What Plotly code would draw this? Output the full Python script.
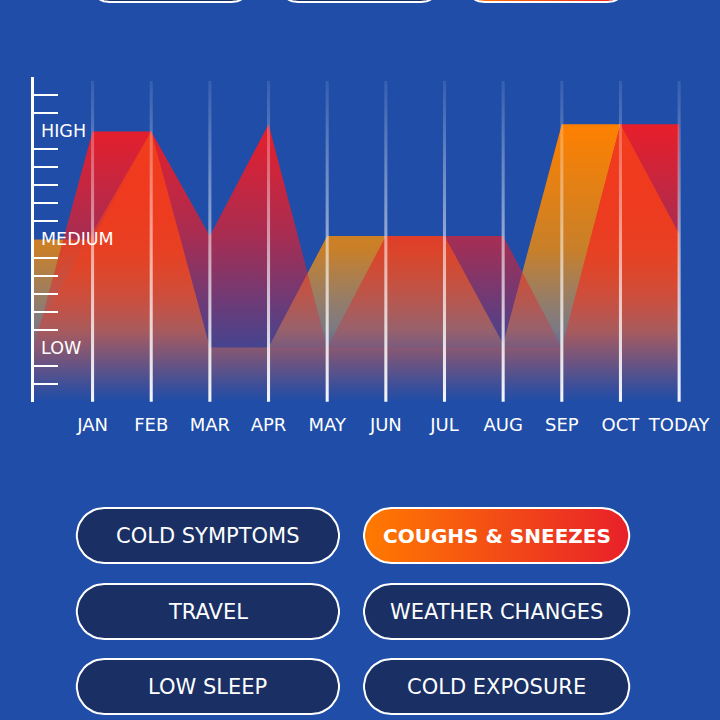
import numpy as np
import plotly.graph_objects as go

# ---- data -------------------------------------------------------------
months = ["JAN", "FEB", "MAR", "APR", "MAY", "JUN", "JUL", "AUG", "SEP",
          "OCT", "TODAY"]
# first value of every series sits on the y axis (x = -1), then one per month
x_pos = list(range(-1, len(months)))

red_series = [3.0, 15.0, 15.0, 9.2, 15.4, 3.0, 9.2, 9.2, 9.2, 3.0, 15.4, 15.4]
orange_series = [9.0, 9.0, 15.0, 3.0, 3.0, 9.2, 9.2, 9.2, 3.2, 15.4, 15.4, 9.3]
coral_series = [3.8, 9.4, 15.0, 3.0, 3.0, 3.0, 3.0, 3.0, 3.0, 3.0, 15.4, 9.3]

level_names = ["LOW", "MEDIUM", "HIGH"]
level_values = [3, 9, 15]
y_max = 18

pill_rows = [["COLD SYMPTOMS", "COUGHS & SNEEZES"],
             ["TRAVEL", "WEATHER CHANGES"],
             ["LOW SLEEP", "COLD EXPOSURE"]]
active_pill = "COUGHS & SNEEZES"

# ---- style --------------------------------------------------------------
BG = "#1f4da7"
NAVY = "#1a3064"
FONT = "DejaVu Sans"
W = H = 720
TOP = 15.4

fig = go.Figure()


def area(values, stops):
    # stops given as (level value, colour); turned into a 0..1 colorscale
    fig.add_trace(go.Scatter(
        x=x_pos, y=values, mode="lines", fill="tozeroy",
        line=dict(width=0),
        fillgradient=dict(type="vertical", start=0, stop=TOP,
                          colorscale=[[v / TOP, c] for v, c in stops]),
        hoverinfo="skip", showlegend=False))


area(orange_series, [(0, "rgba(130,130,160,0)"),
                     (2, "rgba(200,150,120,0.22)"),
                     (4, "rgba(215,165,95,0.5)"),
                     (8.4, "rgba(242,140,10,0.8)"),
                     (TOP, "rgba(255,128,0,1)")])
area(red_series, [(0, "rgba(232,30,42,0)"),
                  (3.4, "rgba(232,30,42,0.22)"),
                  (9.2, "rgba(232,30,42,0.68)"),
                  (TOP, "rgba(232,30,42,1)")])
area(coral_series, [(0, "rgba(242,62,28,0)"),
                    (3, "rgba(242,62,28,0.12)"),
                    (TOP, "rgba(242,62,28,1)")])

# fading white month lines
half = 0.026
for i in range(len(months)):
    fig.add_trace(go.Scatter(
        x=[i - half, i + half, i + half, i - half, i - half],
        y=[0, 0, y_max - 0.2, y_max - 0.2, 0],
        mode="lines", fill="toself", line=dict(width=0),
        fillgradient=dict(type="vertical",
                          colorscale=[[0, "rgba(255,255,255,0.95)"],
                                      [1, "rgba(255,255,255,0.1)"]]),
        hoverinfo="skip", showlegend=False))

for name, val in zip(level_names, level_values):
    fig.add_annotation(x=-1, y=val, xref="x", yref="y", text=name,
                       showarrow=False, xanchor="left", xshift=5,
                       font=dict(family=FONT, size=17.5, color="white"))


# ---- pill buttons (pixel axes) -----------------------------------------
def pill(x0, x1, yc, h, n=24):
    r = h / 2
    a = np.linspace(-np.pi / 2, np.pi / 2, n)
    xs = list(x1 - r + r * np.cos(a)) + list(x0 + r - r * np.cos(a))
    ys = list(yc + r * np.sin(a)) + list(yc - r * np.sin(a))
    return xs + [xs[0]], ys + [ys[0]]


def add_pill(x0, x1, yc, h, label, active):
    xs, ys = pill(x0, x1, yc, h)
    kw = dict(fillcolor=NAVY)
    if active:
        kw = dict(fillgradient=dict(type="horizontal",
                                    colorscale=[[0, "#ff7a00"],
                                                [1, "#e8202a"]]))
    fig.add_trace(go.Scatter(x=xs, y=ys, mode="lines", fill="toself",
                             line=dict(color="white", width=2),
                             xaxis="x2", yaxis="y3", hoverinfo="skip",
                             showlegend=False, **kw))
    if label:
        fig.add_annotation(x=(x0 + x1) / 2, y=yc, xref="x2", yref="y3",
                           text=label, showarrow=False,
                           font=dict(family=FONT, size=20 if active else 21,
                                     color="white",
                                     weight=700 if active else 400))


# row cut by the top edge
for (x0, x1), act in zip([(88, 254), (277, 444), (464, 631)],
                         [False, False, True]):
    add_pill(x0, x1, -20, 44, "", act)

cols = [(77, 340), (365, 631)]
row_y = [535.5, 611.5, 686.5]
for row, yc in zip(pill_rows, row_y):
    for label, (x0, x1) in zip(row, cols):
        add_pill(x0, x1, yc, 55, label, label == active_pill)

# ---- layout -------------------------------------------------------------
px_per_month = 58.82
x_left, x_right = 34, 710
y_top, y_bottom = 77, 402

fig.update_layout(
    width=W, height=H,
    margin=dict(l=0, r=0, t=0, b=0),
    paper_bgcolor=BG, plot_bgcolor="rgba(0,0,0,0)",
    xaxis=dict(domain=[x_left / W, x_right / W],
               range=[-1, -1 + (x_right - x_left) / px_per_month],
               tickvals=list(range(len(months))), ticktext=months,
               ticks="outside", ticklen=6, tickcolor="rgba(0,0,0,0)",
               tickfont=dict(family=FONT, size=18, color="white"),
               showline=False, showgrid=False, zeroline=False,
               fixedrange=True),
    yaxis=dict(domain=[(H - y_bottom) / H, (H - y_top) / H],
               range=[-0.02, y_max + 0.02],
               tickvals=[v for v in range(y_max + 1) if v not in level_values],
               ticks="inside", ticklen=24, tickwidth=2, tickcolor="white",
               showticklabels=False, showline=True, linecolor="white",
               linewidth=2.5, showgrid=False, zeroline=False,
               fixedrange=True),
    xaxis2=dict(domain=[0, 1], range=[0, W], anchor="y3", visible=False,
                fixedrange=True),
    yaxis3=dict(domain=[0, 1], range=[H, 0], anchor="x2", visible=False,
                fixedrange=True),
)

fig.write_html(
    "out.html", config={"displayModeBar": False},
    post_script="document.body.style.margin='0';"
                "document.body.style.overflow='hidden';"
                "document.documentElement.style.overflow='hidden';")
